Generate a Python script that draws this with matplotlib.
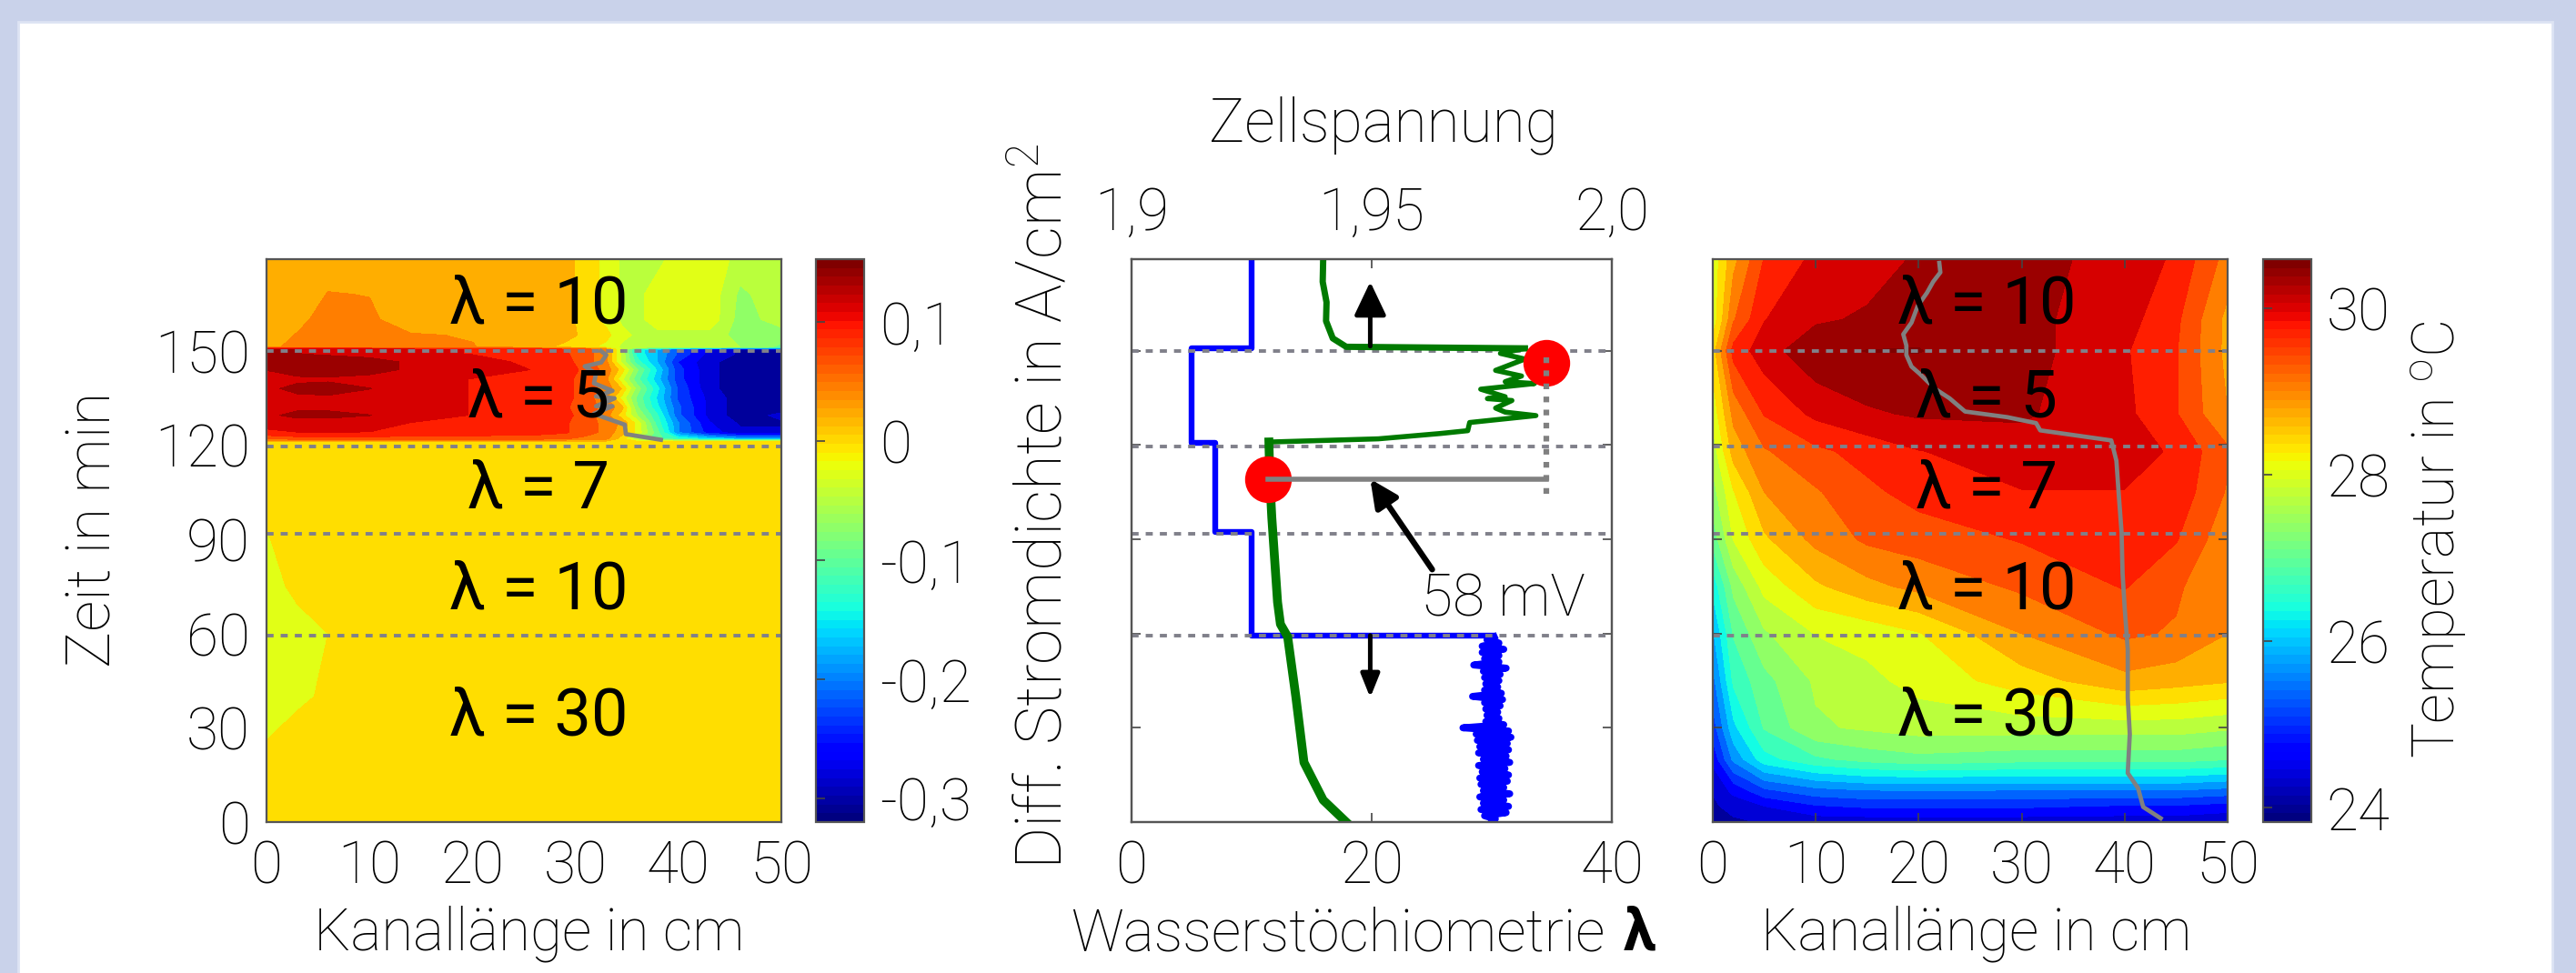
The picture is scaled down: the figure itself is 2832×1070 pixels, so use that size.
import numpy as np
import matplotlib
matplotlib.use('Agg')
import matplotlib.pyplot as plt
from matplotlib.cm import ScalarMappable
from matplotlib.colors import Normalize
from matplotlib.patches import Rectangle

plt.rcParams['font.family'] = ['Roboto', 'DejaVu Sans']
plt.rcParams['font.weight'] = 'light'
plt.rcParams['mathtext.default'] = 'regular'

W, H = 2832, 1070
FS = 46
LAB = 46
GRAU = '#80808a'

# Stromdichte-Differenz (linkes Bild)
x_links = [0, 3, 6, 10, 14, 20, 26, 29, 31, 33, 34.5, 36, 38, 40, 43, 46, 50]
t_links = [0, 25, 40, 60, 75, 91, 121, 122, 124, 127, 129.5, 132, 135, 138, 141, 144, 146.5, 149, 150.5, 151.2, 155, 160, 168, 179]
z_links = [
    [0, 0, 0, 0, 0, 0, 0, 0, 0, 0, 0, 0, 0, 0, 0, 0, 0],
    [-.012, 0, 0, 0, 0, 0, 0, 0, 0, 0, 0, 0, 0, 0, 0, 0, 0],
    [-.02, -.018, -.008, 0, 0, 0, 0, 0, 0, 0, 0, 0, 0, 0, 0, 0, 0],
    [-.02, -.02, -.0125, 0, 0, 0, 0, 0, 0, 0, 0, 0, 0, 0, 0, 0, 0],
    [-.02, -.008, 0, 0, 0, 0, 0, 0, 0, 0, 0, 0, 0, 0, 0, 0, 0],
    [-.014, 0, 0, 0, 0, 0, 0, 0, 0, 0, 0, 0, 0, 0, 0, 0, 0],
    [0, 0, 0, 0, 0, 0, 0, 0, 0, 0, 0, 0, 0, 0, 0, 0, 0],
    [.06, .07, .07, .07, .07, .07, .07, .06, .05, .04, 0, -.06, -.1, -.13, -.16, -.18, -.18],
    [.10, .105, .105, .105, .10, .095, .09, .085, .07, .05, .02, -.02, -.1, -.2, -.26, -.29, -.29],
    [.115, .12, .12, .115, .105, .10, .095, .085, .07, .05, .03, -.02, -.12, -.2, -.27, -.3, -.3],
    [.125, .135, .135, .13, .115, .105, .10, .09, .07, .045, 0, -.06, -.13, -.22, -.28, -.31, -.29],
    [.11, .125, .125, .12, .115, .105, .095, .085, .07, .05, .02, -.08, -.15, -.22, -.28, -.31, -.31],
    [.12, .125, .125, .12, .115, .105, .10, .09, .07, .04, -.02, -.09, -.16, -.23, -.28, -.31, -.31],
    [.125, .135, .14, .13, .115, .105, .10, .09, .07, .05, .01, -.07, -.15, -.23, -.29, -.31, -.31],
    [.12, .125, .125, .12, .115, .105, .10, .09, .07, .04, -.03, -.1, -.17, -.24, -.29, -.31, -.31],
    [.13, .14, .145, .14, .125, .115, .105, .095, .075, .05, 0, -.08, -.16, -.24, -.29, -.31, -.31],
    [.145, .15, .15, .14, .125, .115, .10, .09, .07, .04, -.04, -.12, -.18, -.25, -.29, -.31, -.31],
    [.13, .13, .125, .12, .11, .105, .10, .085, .07, .04, -.04, -.14, -.18, -.23, -.28, -.3, -.3],
    [.13, .13, .125, .12, .11, .105, .10, .085, .07, .04, -.04, -.14, -.18, -.23, -.28, -.3, -.3],
    [.03, .04, .04, .04, .04, .036, .02, .005, -.005, -.02, -.04, -.045, -.05, -.05, -.05, -.06, -.09],
    [.02, .037, .05, .05, .037, .033, .02, .02, .005, -.005, -.03, -.04, -.045, -.045, -.045, -.07, -.07],
    [.02, .025, .05, .04, .02, .02, .02, .02, 0, -.02, -.04, -.045, -.02, -.02, -.02, -.07, -.05],
    [.02, .02, .036, .034, .02, .02, .02, .02, 0, -.02, -.04, -.045, -.02, -.02, -.02, -.065, -.045],
    [.02, .02, .02, .02, .02, .02, .02, .02, 0, -.02, -.04, -.04, -.045, -.02, -.02, -.045, -.045],
]

# Temperatur (rechtes Bild)
x_rechts = [0, 2, 5, 10, 15, 20, 30, 40, 45, 50]
t_rechts = [0, 5, 10, 20, 30, 45, 60, 75, 90, 105, 118, 130, 150, 160, 179]
z_rechts = [
    [24.0, 24.1, 24.2, 24.3, 24.3, 24.3, 24.3, 24.3, 24.3, 24.2],
    [24.1, 24.3, 24.5, 24.8, 24.9, 24.9, 24.9, 24.8, 24.8, 24.7],
    [24.2, 24.6, 25.1, 25.4, 25.5, 25.5, 25.5, 25.5, 25.5, 25.4],
    [24.6, 25.6, 26.4, 26.8, 27.0, 27.1, 27.0, 27.0, 27.0, 26.9],
    [25.0, 26.1, 26.9, 27.5, 27.6, 27.7, 27.7, 27.7, 27.7, 27.6],
    [25.4, 26.6, 27.1, 27.6, 27.8, 28.0, 28.4, 28.8, 28.7, 28.6],
    [25.8, 26.9, 27.5, 27.9, 28.0, 28.2, 28.9, 29.3, 29.2, 28.9],
    [26.3, 27.3, 28.0, 28.5, 28.8, 29.0, 29.3, 29.6, 29.3, 28.9],
    [27.0, 27.9, 28.5, 29.0, 29.3, 29.4, 29.6, 29.8, 29.6, 29.0],
    [27.4, 28.2, 28.9, 29.2, 29.5, 29.7, 29.9, 29.9, 29.8, 29.2],
    [27.7, 28.7, 29.2, 29.5, 29.7, 29.9, 30.1, 30.1, 29.85, 29.3],
    [28.0, 29.0, 29.6, 30.0, 30.2, 30.3, 30.3, 30.0, 29.6, 28.9],
    [28.4, 29.7, 30.1, 30.5, 30.6, 30.6, 30.4, 29.95, 29.6, 28.8],
    [28.0, 29.2, 29.9, 30.2, 30.3, 30.5, 30.35, 30.05, 29.65, 28.8],
    [28.0, 28.8, 29.6, 30.0, 30.1, 30.3, 30.35, 30.15, 29.85, 29.1],
]

# graue Kurven in den Konturbildern
grau_l_x = [32.5, 33, 32.5, 30.9, 32, 31.8, 33.6, 32, 33.8, 32, 33.6, 31.8, 32.7, 34.8, 34.9, 38.3]
grau_l_y = [149.9, 148.7, 146.3, 145.1, 142.7, 139.7, 137.3, 135.5, 134.9, 132.4, 132.4, 130, 128.9, 126.5, 123.5, 121.7]
grau_r_x = [22.0, 22.1, 21.4, 20.8, 19.9, 19.3, 18.5, 18.8, 18.8, 19.3, 20.1, 21.6, 23, 24.5, 28.6, 31.4, 31.8, 38.7, 39.2,
            39.4, 39.7, 39.8, 40, 40.3, 40.3, 40.5, 40.3, 41.3, 41.8, 43.5]
grau_r_y = [178, 175, 172, 168.5, 164.3, 159, 155.3, 151.7, 148.7, 145, 142.7, 137.9, 134.9, 130.7, 128.9, 127, 124.7, 121.5, 115,
            105.5, 92.3, 79, 68.3, 55, 39.6, 28, 15.6, 10.8, 4.8, 1.2]

# Mittelbild: Wasserstoechiometrie
lam_stufen = [10, 10, 5, 5, 7, 7, 10, 10]
t_stufen = [179, 150.8, 150.8, 120.6, 120.6, 92.4, 92.4, 59.4]
lam_rausch = [30.0, 30.3, 29.4, 31.2, 29.1, 31.4, 29.3, 31.0, 29.0, 31.5, 29.3, 31.0, 29.1, 31.3, 29.0, 31.4, 29.2, 31.1,
              28.9, 31.5, 29.3, 31.2, 28.9, 31.4, 29.0, 31.3, 28.8, 31.6, 28.7, 31.4, 27.6, 31.0, 29.5, 30.6, 29.6, 30.5,
              29.5, 30.7, 29.4, 30.9, 28.4, 30.8, 29.4, 30.5, 29.5, 30.6, 29.4, 30.7, 29.3, 31.2, 28.5, 30.6, 29.4, 30.6,
              29.2, 31.0, 29.2, 30.6, 29.6, 30.2]
t_rausch = [0, 1, 2, 3, 4, 5, 6, 7, 8, 9, 10, 11, 12, 13, 14, 15, 16, 17, 18, 19, 20, 21, 22, 23, 24, 25, 26, 27, 28, 29, 30,
            31, 32, 33, 34, 35, 36, 37, 38, 39, 40, 41, 42, 43, 44, 45, 46, 47, 48, 49, 50, 51, 52, 53, 54, 55, 56, 57, 58, 59]

# Zellspannung
u_oben = [1.9399, 1.9398, 1.9406, 1.9405, 1.9419, 1.9447, 1.9819]
t_oben = [179, 172, 165.5, 159.5, 154, 151.3, 150.8]
u_spitze = [1.9819, 1.9768, 1.9819, 1.9758, 1.9812, 1.9778, 1.9839, 1.9727, 1.9778, 1.9741, 1.9792, 1.9758, 1.9778, 1.9842,
            1.9704, 1.9700, 1.9643, 1.9514, 1.9291]
t_spitze = [150.8, 149.2, 147.4, 143.8, 142, 140.2, 139.6, 137.8, 135.4, 134.8, 134.2, 131.8, 130.5, 129.4,
            127.2, 124.6, 123.7, 122, 121]
u_unten = [1.9286, 1.9288, 1.9292, 1.9304, 1.9310, 1.9325, 1.9342, 1.9359, 1.9399, 1.9447]
t_unten = [121, 109, 97, 70, 63, 59, 40, 19, 7, 0]
u_punkte = [1.9863, 1.9284]
t_punkte = [146.2, 109]

zeit_ticks = [0, 30, 60, 90, 120, 150]
wechsel_links = [150, 119.7, 91.7, 59.4]
lambda_texte = ['λ = 10', 'λ = 5', 'λ = 7', 'λ = 10', 'λ = 30']
lambda_y = [164.5, 134.5, 105.8, 73.4, 33.2]


def achse(x0, y0, x1, y1):
    return fig.add_axes([x0 / W, 1 - y1 / H, (x1 - x0) / W, (y1 - y0) / H])


def rahmen(ax):
    for s in ax.spines.values():
        s.set_color('#555555')
        s.set_linewidth(1.6)


def farbskala(cax, vmin, vmax, ticks, labels):
    sm = ScalarMappable(Normalize(vmin, vmax), plt.get_cmap('jet', 64))
    cb = fig.colorbar(sm, cax=cax)
    cb.set_ticks(ticks)
    cb.set_ticklabels(labels)
    cax.tick_params(direction='in', left=True, right=False, labelright=True, length=7, width=1.2, color='#444444',
                    labelsize=FS, pad=12)
    cb.outline.set_edgecolor('#555555')
    cb.outline.set_linewidth(1.6)


fig = plt.figure(figsize=(28.32, 10.7), dpi=100, facecolor='#c9d2ea')
fig.add_artist(Rectangle((20 / W, -0.01), (2806 - 20) / W, 1.01 - 24 / H, transform=fig.transFigure,
                         facecolor='white', edgecolor='#dde3f3', linewidth=2, zorder=-1))

# links
ax1 = achse(293, 285, 859, 904)
ax1.contourf(x_links, t_links, z_links, levels=np.linspace(-.32, .153, 21), cmap='jet', vmin=-.32, vmax=.153, extend='both')
ax1.set_xlim(0, 50)
ax1.set_ylim(0, 179.2)
ax1.set_xticks([0, 10, 20, 30, 40, 50])
ax1.set_yticks(zeit_ticks)
ax1.tick_params(direction='in', labelsize=FS, length=7, width=1.2, color='#444444', top=True, right=True, pad=13)
ax1.set_axisbelow(True)
for y in wechsel_links:
    ax1.axhline(y, color=GRAU, lw=2.8, ls=(0, (2, 2)))
ax1.plot(grau_l_x, grau_l_y, color='#808080', lw=3.4)
for s, y in zip(lambda_texte, lambda_y):
    ax1.text(26.4, y, s, ha='center', va='center', fontsize=52, fontweight='normal')
rahmen(ax1)

cax1 = achse(897, 285, 950, 904)
farbskala(cax1, -.32, .153, [-.3, -.2, -.1, 0, .1], ['-0,3', '-0,2', '-0,1', '0', '0,1'])

# Mitte
ax2 = achse(1244, 285, 1772, 904)
ax2.set_xlim(0, 40)
ax2.set_ylim(0, 179.2)
ax2.set_xticks([0, 20, 40])
ax2.set_yticks(zeit_ticks)
ax2.set_yticklabels([])
ax2.tick_params(direction='in', labelsize=FS, length=7, width=1.2, color='#444444', right=True, pad=13)
ax2.plot(lam_stufen + [30], t_stufen + [59.4], color='#0000ff', lw=4.6)
ax2.plot(lam_rausch, t_rausch, color='#0000ff', lw=5.5)
top = ax2.twiny()
top.set_xlim(1.9, 2.0)
top.set_xticks([1.9, 1.95, 2.0])
top.set_xticklabels(['1,9', '1,95', '2,0'])
top.tick_params(direction='in', labelsize=FS, length=7, width=1.2, color='#444444', pad=14)
top.plot(u_oben, t_oben, color='#007a00', lw=5)
top.plot(u_spitze, t_spitze, color='#007a00', lw=4)
top.plot(u_unten, t_unten, color='#007a00', lw=7)
for y in wechsel_links:
    ax2.axhline(y, color=GRAU, lw=2.8, ls=(0, (2, 2)), zorder=5)
top.plot(u_punkte, t_punkte, 'o', color='#ff0000', ms=37, mew=0, zorder=6)
top.plot([u_punkte[0], u_punkte[0]], [104.5, 150], color='#808080', lw=4.5, ls=(0, (1, 1.3)), zorder=7)
top.plot([u_punkte[1], u_punkte[0]], [109, 109], color='#808080', lw=4, zorder=7)
top.annotate('', xy=(1.9497, 172), xytext=(1.9497, 151.5), zorder=8,
             arrowprops=dict(arrowstyle='-|>,head_width=0.38,head_length=0.8', color='black', lw=3.6, mutation_scale=28, shrinkA=0, shrinkB=0))
top.annotate('', xy=(1.9497, 39.6), xytext=(1.9497, 59.4), zorder=8,
             arrowprops=dict(arrowstyle='-|>,head_width=0.22,head_length=0.55', color='black', lw=3.6, mutation_scale=28, shrinkA=0, shrinkB=0))
top.annotate('', xy=(1.9497, 109.2), xytext=(1.9626, 80.4), zorder=8,
             arrowprops=dict(arrowstyle='-|>,head_width=0.31,head_length=0.65', color='black', lw=4.6, mutation_scale=28, shrinkA=0, shrinkB=0))
ax2.text(30.9, 70.8, '58 mV', ha='center', va='center', fontsize=FS, zorder=9)
rahmen(ax2)
rahmen(top)

# rechts
ax3 = achse(1883, 285, 2449, 904)
ax3.contourf(x_rechts, t_rechts, z_rechts, levels=np.linspace(23.83, 30.59, 21), cmap='jet', vmin=23.83, vmax=30.59, extend='both')
ax3.set_xlim(0, 50)
ax3.set_ylim(0, 179.2)
ax3.set_xticks([0, 10, 20, 30, 40, 50])
ax3.set_yticks(zeit_ticks)
ax3.set_yticklabels([])
ax3.tick_params(direction='in', labelsize=FS, length=7, width=1.2, color='#444444', top=True, right=True, pad=13)
for y in wechsel_links:
    ax3.axhline(y, color=GRAU, lw=2.8, ls=(0, (2, 2)))
ax3.plot(grau_r_x, grau_r_y, color='#808080', lw=3.4)
for s, y in zip(lambda_texte, lambda_y):
    ax3.text(26.6, y, s, ha='center', va='center', fontsize=52, fontweight='normal')
rahmen(ax3)

cax2 = achse(2488, 285, 2541, 904)
farbskala(cax2, 23.83, 30.59, [24, 26, 28, 30], ['24', '26', '28', '30'])

# Beschriftung
fig.text(103 / W, 1 - 582 / H, 'Zeit in min', rotation=90, ha='center', va='center', fontsize=48.5)
fig.text(582 / W, 1 - 1027 / H, 'Kanallänge in cm', ha='center', va='center', fontsize=LAB)
fig.text(1764 / W, 1 - 1027 / H, 'Wasserstöchiometrie', ha='right', va='center', fontsize=LAB)
fig.text(1802 / W, 1 - 1027 / H, 'λ', ha='center', va='center', fontsize=LAB, fontweight='bold')
fig.text(2173 / W, 1 - 1027 / H, 'Kanallänge in cm', ha='center', va='center', fontsize=LAB)
fig.text(1147 / W, 1 - 557 / H, 'Diff. Stromdichte in A/cm$^2$', rotation=90, ha='center', va='center', fontsize=51)
fig.text(1521 / W, 1 - 138 / H, 'Zellspannung', ha='center', va='center', fontsize=47.5)
fig.text(2682 / W, 1 - 593 / H, 'Temperatur in $^o$C', rotation=90, ha='center', va='center', fontsize=47)

fig.savefig('out.png', dpi=100, facecolor=fig.get_facecolor())
